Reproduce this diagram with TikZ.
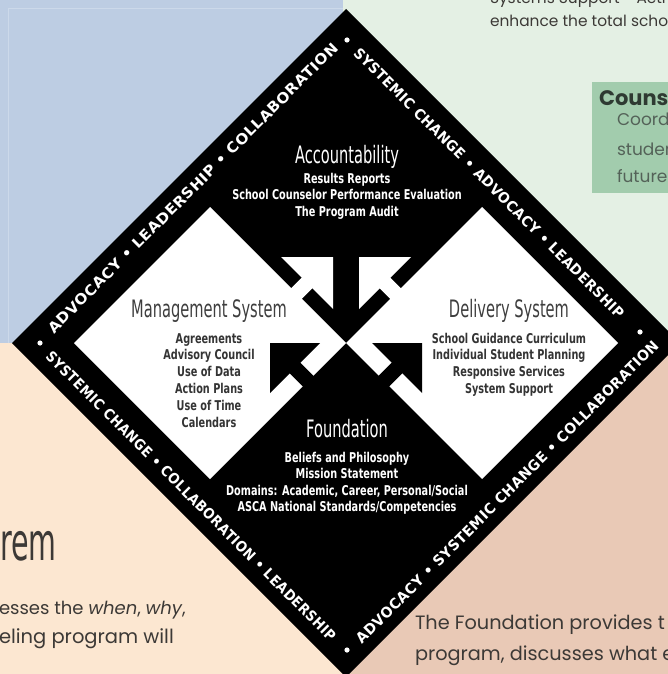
\documentclass[tikz,border=0pt]{standalone}
\usepackage{fontspec}
\usepackage{graphicx}
\setmainfont{Poppins}
\newfontfamily\bandfont{DejaVu Sans}[LetterSpace=3]
\newfontfamily\headfont{DejaVu Sans}[FakeStretch=0.61]
\newfontfamily\itemfont{DejaVu Sans}[FakeStretch=0.72]
\newfontfamily\bigfont{DejaVu Sans}[FakeStretch=0.55]

\definecolor{quadblue}{RGB}{189,205,227}
\definecolor{quadline}{RGB}{204,217,234}
\definecolor{quadgreen}{RGB}{228,240,228}
\definecolor{quadpeach}{RGB}{252,231,209}
\definecolor{quadrose}{RGB}{233,201,182}
\definecolor{boxgreen}{RGB}{162,204,173}
\definecolor{boxtitle}{RGB}{46,58,50}
\definecolor{boxtext}{RGB}{84,98,88}
\definecolor{slidetext}{RGB}{60,57,54}
\definecolor{paneltitle}{RGB}{62,62,62}
\definecolor{panelitem}{RGB}{52,52,52}

\begin{document}
\begin{tikzpicture}[x=1pt,y=-1pt,
  every node/.style={inner sep=0pt, outer sep=0pt},
  bandtext/.style={font=\bandfont\bfseries\fontsize{14.5}{14.5}\selectfont, text=white},
  cornerdot/.style={fill=white, draw=none},
  heading/.style={font=\headfont\fontsize{24}{24}\selectfont, anchor=base},
  entry/.style={font=\itemfont\bfseries\fontsize{13.5}{13.5}\selectfont, anchor=base},
  slide/.style={font=\fontsize{18}{18}\selectfont, text=slidetext, anchor=base west},
  note/.style={font=\fontsize{15.4}{15.4}\selectfont, text=slidetext, anchor=base west},
  boxline/.style={font=\fontsize{17}{17}\selectfont, text=boxtext, anchor=base west},
  shaft/.style={line width=15pt},
]
\useasboundingbox (0,0) rectangle (668,674);
\clip (0,0) rectangle (668,674);

% four coloured quarters of the slide
\fill[quadblue]  (0,0)     rectangle (343,343);
\fill[quadgreen] (343,0)   rectangle (668,343);
\fill[quadpeach] (0,343)   rectangle (343,674);
\fill[quadrose]  (343,343) rectangle (668,674);
\draw[quadline, line width=0.8pt] (8,343) -- (8,8) -- (343,8);

% slide text around the model
\node[note] (tr-dot) at (472,4) {•};
\node[note] (tr-1) at (490,4) {Systems Support - Acti};
\node[note] (tr-2) at (490,27) {enhance the total schoo};

\fill[boxgreen] (592,82) rectangle (668,193);
\node[anchor=base west, font=\bfseries\fontsize{21}{21}\selectfont, text=boxtitle] (box-title) at (599,106) {Couns};
\node[boxline] (box-1) at (617,125) {Coordi};
\node[boxline] (box-2) at (617,155) {studen};
\node[boxline] (box-3) at (617,182) {future};

\node[anchor=base west, font=\bigfont\fontsize{52}{52}\selectfont, text=slidetext] (big-title) at (0,560) {rem};
\node[slide] (bl-1) at (-1,614) {esses the \emph{when}, \emph{why},};
\node[slide, font=\fontsize{19.5}{19.5}\selectfont] (bl-2) at (-1,643) {eling program will};
\node[slide, font=\fontsize{19.3}{19.3}\selectfont] (br-1) at (415,629) {The Foundation provides t};
\node[slide, font=\fontsize{19.3}{19.3}\selectfont] (br-2) at (415,660) {program, discusses what e};

% the diamond and its two white panels
\coordinate (O) at (346,343);
\fill[black] (346,9) -- (680,343) -- (346,677) -- (12,343) -- cycle;
\fill[white] (210,207) -- (O) -- (210,479) -- (74,343) -- cycle;
\fill[white] (482,207) -- (618,343) -- (482,479) -- (O) -- cycle;

% white arrows from the panels up into Accountability
\fill[white] (333,257) -- (281,257) -- (333,309) -- cycle;
\draw[white, shaft] (313,277) -- (290,300);
\fill[white] (359,257) -- (411,257) -- (359,309) -- cycle;
\draw[white, shaft] (379,277) -- (402,300);

% black arrows from Foundation out into the panels
\fill[black] (270,343) -- (320,343) -- (270,393) -- cycle;
\draw[black, shaft] (288,361) -- (316,389);
\fill[black] (422,343) -- (372,343) -- (422,393) -- cycle;
\draw[black, shaft] (404,361) -- (376,389);

% lettering round the border
\node[bandtext, rotate=45] (band-ul) at (193,188)
  {\resizebox{403pt}{\height}{ADVOCACY • LEADERSHIP • COLLABORATION}};
\node[bandtext, rotate=-45] (band-ur) at (489,183)
  {\resizebox{375pt}{\height}{SYSTEMIC CHANGE • ADVOCACY • LEADERSHIP}};
\node[bandtext, rotate=45] (band-lr) at (507,492)
  {\resizebox{421pt}{\height}{ADVOCACY • SYSTEMIC CHANGE • COLLABORATION}};
\node[bandtext, rotate=-45] (band-ll) at (191,496)
  {\resizebox{403pt}{\height}{SYSTEMIC CHANGE • COLLABORATION • LEADERSHIP}};
\fill[cornerdot] (40,343) circle (2.6);
\fill[cornerdot] (347,40) circle (2.6);
\fill[cornerdot] (347,650) circle (2.6);
\fill[cornerdot] (640,332) circle (2.6);

% Accountability
\node[heading, text=white] (acc) at (347,163) {Accountability};
\foreach \t [count=\i] in {Results Reports, School Counselor Performance Evaluation, The Program Audit}
  \node[entry, text=white] (acc-\i) at (347,{183+16.5*(\i-1)}) {\t};

% Management System
\node[heading, text=paneltitle] (mgmt) at (209,317) {Management System};
\foreach \t [count=\i] in {Agreements, Advisory Council, Use of Data, Action Plans, Use of Time, Calendars}
  \node[entry, text=panelitem] (mgmt-\i) at (209,{343+16.8*(\i-1)}) {\t};

% Delivery System
\node[heading, text=paneltitle] (dlv) at (509,317) {Delivery System};
\foreach \t [count=\i] in {School Guidance Curriculum, Individual Student Planning, Responsive Services, System Support}
  \node[entry, text=panelitem] (dlv-\i) at (509,{343+16.8*(\i-1)}) {\t};

% Foundation
\node[heading, text=white] (fnd) at (347,437) {Foundation};
\foreach \t [count=\i] in {Beliefs and Philosophy, Mission Statement, {Domains: Academic, Career, Personal/Social}, ASCA National Standards/Competencies}
  \node[entry, text=white] (fnd-\i) at (347,{462+16.5*(\i-1)}) {\t};
\end{tikzpicture}
\end{document}
